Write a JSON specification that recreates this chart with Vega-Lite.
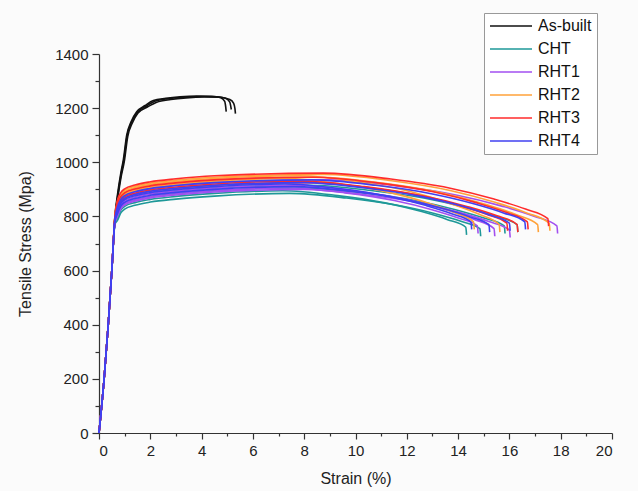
{
"$schema":"https://vega.github.io/schema/vega-lite/v6.json",
"width":513,"height":379,
"autosize":{"type":"none"},
"padding":{"left":99,"top":54,"right":26,"bottom":58},
"background":"#fbfbfb",
"config":{"view":{"stroke":null},"font":"Liberation Sans",
 "axis":{"domainColor":"#333","tickColor":"#333","domainWidth":1.2,"tickWidth":1.2,"labelColor":"#222","titleColor":"#222","labelFontSize":15,"titleFontSize":16,"titleFontWeight":"normal","grid":false,"labelFont":"Liberation Sans","titleFont":"Liberation Sans","format":"d"}},
"data":{"values":[
{"id":"a1","g":"As-built","x":0,"y":0},{"id":"a1","g":"As-built","x":0.2,"y":200},{"id":"a1","g":"As-built","x":0.36,"y":400},{"id":"a1","g":"As-built","x":0.5,"y":600},{"id":"a1","g":"As-built","x":0.62,"y":800},{"id":"a1","g":"As-built","x":0.72,"y":880},{"id":"a1","g":"As-built","x":0.85,"y":960},{"id":"a1","g":"As-built","x":0.95,"y":1010},{"id":"a1","g":"As-built","x":1.08,"y":1100},{"id":"a1","g":"As-built","x":1.25,"y":1150},{"id":"a1","g":"As-built","x":1.47,"y":1187},{"id":"a1","g":"As-built","x":1.8,"y":1210},{"id":"a1","g":"As-built","x":2.12,"y":1228},{"id":"a1","g":"As-built","x":2.6,"y":1236},{"id":"a1","g":"As-built","x":3.16,"y":1242},{"id":"a1","g":"As-built","x":3.8,"y":1245},{"id":"a1","g":"As-built","x":4.4,"y":1244},{"id":"a1","g":"As-built","x":4.75,"y":1238},{"id":"a1","g":"As-built","x":4.9,"y":1225},{"id":"a1","g":"As-built","x":4.94,"y":1205},{"id":"a1","g":"As-built","x":4.96,"y":1187},
{"id":"a2","g":"As-built","x":0,"y":0},{"id":"a2","g":"As-built","x":0.2,"y":200},{"id":"a2","g":"As-built","x":0.36,"y":400},{"id":"a2","g":"As-built","x":0.5,"y":600},{"id":"a2","g":"As-built","x":0.62,"y":795},{"id":"a2","g":"As-built","x":0.72,"y":870},{"id":"a2","g":"As-built","x":0.85,"y":950},{"id":"a2","g":"As-built","x":0.97,"y":1010},{"id":"a2","g":"As-built","x":1.1,"y":1100},{"id":"a2","g":"As-built","x":1.28,"y":1150},{"id":"a2","g":"As-built","x":1.5,"y":1185},{"id":"a2","g":"As-built","x":1.85,"y":1208},{"id":"a2","g":"As-built","x":2.2,"y":1226},{"id":"a2","g":"As-built","x":2.7,"y":1235},{"id":"a2","g":"As-built","x":3.3,"y":1240},{"id":"a2","g":"As-built","x":4.0,"y":1243},{"id":"a2","g":"As-built","x":4.6,"y":1242},{"id":"a2","g":"As-built","x":4.95,"y":1236},{"id":"a2","g":"As-built","x":5.1,"y":1222},{"id":"a2","g":"As-built","x":5.14,"y":1205},{"id":"a2","g":"As-built","x":5.16,"y":1195},
{"id":"a3","g":"As-built","x":0,"y":0},{"id":"a3","g":"As-built","x":0.2,"y":200},{"id":"a3","g":"As-built","x":0.36,"y":400},{"id":"a3","g":"As-built","x":0.5,"y":600},{"id":"a3","g":"As-built","x":0.62,"y":790},{"id":"a3","g":"As-built","x":0.72,"y":860},{"id":"a3","g":"As-built","x":0.85,"y":940},{"id":"a3","g":"As-built","x":0.99,"y":1005},{"id":"a3","g":"As-built","x":1.12,"y":1095},{"id":"a3","g":"As-built","x":1.3,"y":1145},{"id":"a3","g":"As-built","x":1.52,"y":1182},{"id":"a3","g":"As-built","x":1.9,"y":1205},{"id":"a3","g":"As-built","x":2.25,"y":1222},{"id":"a3","g":"As-built","x":2.8,"y":1232},{"id":"a3","g":"As-built","x":3.4,"y":1238},{"id":"a3","g":"As-built","x":4.1,"y":1241},{"id":"a3","g":"As-built","x":4.7,"y":1240},{"id":"a3","g":"As-built","x":5.1,"y":1232},{"id":"a3","g":"As-built","x":5.25,"y":1218},{"id":"a3","g":"As-built","x":5.3,"y":1198},{"id":"a3","g":"As-built","x":5.32,"y":1180},

{"id":"c1","g":"CHT","x":0,"y":0},{"id":"c1","g":"CHT","x":0.2,"y":200},{"id":"c1","g":"CHT","x":0.36,"y":400},{"id":"c1","g":"CHT","x":0.5,"y":600},{"id":"c1","g":"CHT","x":0.62,"y":770},{"id":"c1","g":"CHT","x":0.72,"y":785},{"id":"c1","g":"CHT","x":0.85,"y":813},{"id":"c1","g":"CHT","x":1.0,"y":827},{"id":"c1","g":"CHT","x":1.4,"y":841},{"id":"c1","g":"CHT","x":2.0,"y":853},{"id":"c1","g":"CHT","x":3.0,"y":864},{"id":"c1","g":"CHT","x":4.5,"y":875},{"id":"c1","g":"CHT","x":7.43,"y":885},{"id":"c1","g":"CHT","x":9.65,"y":868},{"id":"c1","g":"CHT","x":11.58,"y":842},{"id":"c1","g":"CHT","x":13.07,"y":811},{"id":"c1","g":"CHT","x":14.11,"y":782},{"id":"c1","g":"CHT","x":14.85,"y":755},{"id":"c1","g":"CHT","x":14.88,"y":727},
{"id":"c2","g":"CHT","x":0,"y":0},{"id":"c2","g":"CHT","x":0.2,"y":200},{"id":"c2","g":"CHT","x":0.36,"y":400},{"id":"c2","g":"CHT","x":0.5,"y":600},{"id":"c2","g":"CHT","x":0.62,"y":774},{"id":"c2","g":"CHT","x":0.72,"y":795},{"id":"c2","g":"CHT","x":0.85,"y":823},{"id":"c2","g":"CHT","x":1.0,"y":837},{"id":"c2","g":"CHT","x":1.4,"y":851},{"id":"c2","g":"CHT","x":2.0,"y":863},{"id":"c2","g":"CHT","x":3.0,"y":874},{"id":"c2","g":"CHT","x":4.5,"y":885},{"id":"c2","g":"CHT","x":7.15,"y":895},{"id":"c2","g":"CHT","x":9.3,"y":877},{"id":"c2","g":"CHT","x":11.15,"y":850},{"id":"c2","g":"CHT","x":12.58,"y":818},{"id":"c2","g":"CHT","x":13.59,"y":788},{"id":"c2","g":"CHT","x":14.3,"y":760},{"id":"c2","g":"CHT","x":14.33,"y":732},
{"id":"c3","g":"CHT","x":0,"y":0},{"id":"c3","g":"CHT","x":0.2,"y":200},{"id":"c3","g":"CHT","x":0.36,"y":400},{"id":"c3","g":"CHT","x":0.5,"y":600},{"id":"c3","g":"CHT","x":0.62,"y":778},{"id":"c3","g":"CHT","x":0.72,"y":805},{"id":"c3","g":"CHT","x":0.85,"y":833},{"id":"c3","g":"CHT","x":1.0,"y":847},{"id":"c3","g":"CHT","x":1.4,"y":861},{"id":"c3","g":"CHT","x":2.0,"y":873},{"id":"c3","g":"CHT","x":3.0,"y":884},{"id":"c3","g":"CHT","x":4.5,"y":895},{"id":"c3","g":"CHT","x":7.9,"y":905},{"id":"c3","g":"CHT","x":10.27,"y":887},{"id":"c3","g":"CHT","x":12.32,"y":859},{"id":"c3","g":"CHT","x":13.9,"y":825},{"id":"c3","g":"CHT","x":15.01,"y":794},{"id":"c3","g":"CHT","x":15.8,"y":765},{"id":"c3","g":"CHT","x":15.83,"y":737},
{"id":"c4","g":"CHT","x":0,"y":0},{"id":"c4","g":"CHT","x":0.2,"y":200},{"id":"c4","g":"CHT","x":0.36,"y":400},{"id":"c4","g":"CHT","x":0.5,"y":600},{"id":"c4","g":"CHT","x":0.62,"y":782},{"id":"c4","g":"CHT","x":0.72,"y":815},{"id":"c4","g":"CHT","x":0.85,"y":843},{"id":"c4","g":"CHT","x":1.0,"y":857},{"id":"c4","g":"CHT","x":1.4,"y":871},{"id":"c4","g":"CHT","x":2.0,"y":883},{"id":"c4","g":"CHT","x":3.0,"y":894},{"id":"c4","g":"CHT","x":4.5,"y":905},{"id":"c4","g":"CHT","x":8.15,"y":915},{"id":"c4","g":"CHT","x":10.6,"y":896},{"id":"c4","g":"CHT","x":12.71,"y":867},{"id":"c4","g":"CHT","x":14.34,"y":832},{"id":"c4","g":"CHT","x":15.49,"y":800},{"id":"c4","g":"CHT","x":16.3,"y":770},{"id":"c4","g":"CHT","x":16.33,"y":742},

{"id":"p1","g":"RHT1","x":0,"y":0},{"id":"p1","g":"RHT1","x":0.2,"y":200},{"id":"p1","g":"RHT1","x":0.36,"y":400},{"id":"p1","g":"RHT1","x":0.5,"y":600},{"id":"p1","g":"RHT1","x":0.62,"y":778},{"id":"p1","g":"RHT1","x":0.72,"y":805},{"id":"p1","g":"RHT1","x":0.85,"y":833},{"id":"p1","g":"RHT1","x":1.0,"y":847},{"id":"p1","g":"RHT1","x":1.4,"y":861},{"id":"p1","g":"RHT1","x":2.0,"y":873},{"id":"p1","g":"RHT1","x":3.0,"y":884},{"id":"p1","g":"RHT1","x":4.5,"y":895},{"id":"p1","g":"RHT1","x":7.38,"y":905},{"id":"p1","g":"RHT1","x":9.59,"y":887},{"id":"p1","g":"RHT1","x":11.51,"y":859},{"id":"p1","g":"RHT1","x":12.98,"y":825},{"id":"p1","g":"RHT1","x":14.01,"y":794},{"id":"p1","g":"RHT1","x":14.75,"y":765},{"id":"p1","g":"RHT1","x":14.78,"y":737},
{"id":"p2","g":"RHT1","x":0,"y":0},{"id":"p2","g":"RHT1","x":0.2,"y":200},{"id":"p2","g":"RHT1","x":0.36,"y":400},{"id":"p2","g":"RHT1","x":0.5,"y":600},{"id":"p2","g":"RHT1","x":0.62,"y":782},{"id":"p2","g":"RHT1","x":0.72,"y":815},{"id":"p2","g":"RHT1","x":0.85,"y":843},{"id":"p2","g":"RHT1","x":1.0,"y":857},{"id":"p2","g":"RHT1","x":1.4,"y":871},{"id":"p2","g":"RHT1","x":2.0,"y":883},{"id":"p2","g":"RHT1","x":3.0,"y":894},{"id":"p2","g":"RHT1","x":4.5,"y":905},{"id":"p2","g":"RHT1","x":7.7,"y":915},{"id":"p2","g":"RHT1","x":10.01,"y":894},{"id":"p2","g":"RHT1","x":12.01,"y":862},{"id":"p2","g":"RHT1","x":13.55,"y":824},{"id":"p2","g":"RHT1","x":14.63,"y":789},{"id":"p2","g":"RHT1","x":15.4,"y":755},{"id":"p2","g":"RHT1","x":15.43,"y":727},
{"id":"p3","g":"RHT1","x":0,"y":0},{"id":"p3","g":"RHT1","x":0.2,"y":200},{"id":"p3","g":"RHT1","x":0.36,"y":400},{"id":"p3","g":"RHT1","x":0.5,"y":600},{"id":"p3","g":"RHT1","x":0.62,"y":776},{"id":"p3","g":"RHT1","x":0.72,"y":800},{"id":"p3","g":"RHT1","x":0.85,"y":828},{"id":"p3","g":"RHT1","x":1.0,"y":842},{"id":"p3","g":"RHT1","x":1.4,"y":856},{"id":"p3","g":"RHT1","x":2.0,"y":868},{"id":"p3","g":"RHT1","x":3.0,"y":879},{"id":"p3","g":"RHT1","x":4.5,"y":890},{"id":"p3","g":"RHT1","x":8.0,"y":900},{"id":"p3","g":"RHT1","x":10.4,"y":880},{"id":"p3","g":"RHT1","x":12.48,"y":850},{"id":"p3","g":"RHT1","x":14.08,"y":814},{"id":"p3","g":"RHT1","x":15.2,"y":781},{"id":"p3","g":"RHT1","x":16.0,"y":750},{"id":"p3","g":"RHT1","x":16.03,"y":722},
{"id":"p4","g":"RHT1","x":0,"y":0},{"id":"p4","g":"RHT1","x":0.2,"y":200},{"id":"p4","g":"RHT1","x":0.36,"y":400},{"id":"p4","g":"RHT1","x":0.5,"y":600},{"id":"p4","g":"RHT1","x":0.62,"y":790},{"id":"p4","g":"RHT1","x":0.72,"y":835},{"id":"p4","g":"RHT1","x":0.85,"y":863},{"id":"p4","g":"RHT1","x":1.0,"y":877},{"id":"p4","g":"RHT1","x":1.4,"y":891},{"id":"p4","g":"RHT1","x":2.0,"y":903},{"id":"p4","g":"RHT1","x":3.0,"y":914},{"id":"p4","g":"RHT1","x":4.5,"y":925},{"id":"p4","g":"RHT1","x":8.93,"y":935},{"id":"p4","g":"RHT1","x":11.6,"y":913},{"id":"p4","g":"RHT1","x":13.92,"y":879},{"id":"p4","g":"RHT1","x":15.71,"y":838},{"id":"p4","g":"RHT1","x":16.96,"y":801},{"id":"p4","g":"RHT1","x":17.85,"y":765},{"id":"p4","g":"RHT1","x":17.88,"y":737},

{"id":"o1","g":"RHT2","x":0,"y":0},{"id":"o1","g":"RHT2","x":0.2,"y":200},{"id":"o1","g":"RHT2","x":0.36,"y":400},{"id":"o1","g":"RHT2","x":0.5,"y":600},{"id":"o1","g":"RHT2","x":0.62,"y":792},{"id":"o1","g":"RHT2","x":0.72,"y":840},{"id":"o1","g":"RHT2","x":0.85,"y":868},{"id":"o1","g":"RHT2","x":1.0,"y":882},{"id":"o1","g":"RHT2","x":1.4,"y":896},{"id":"o1","g":"RHT2","x":2.0,"y":908},{"id":"o1","g":"RHT2","x":3.0,"y":919},{"id":"o1","g":"RHT2","x":4.5,"y":930},{"id":"o1","g":"RHT2","x":7.3,"y":940},{"id":"o1","g":"RHT2","x":9.49,"y":919},{"id":"o1","g":"RHT2","x":11.39,"y":887},{"id":"o1","g":"RHT2","x":12.85,"y":849},{"id":"o1","g":"RHT2","x":13.87,"y":814},{"id":"o1","g":"RHT2","x":14.6,"y":780},{"id":"o1","g":"RHT2","x":14.63,"y":752},
{"id":"o2","g":"RHT2","x":0,"y":0},{"id":"o2","g":"RHT2","x":0.2,"y":200},{"id":"o2","g":"RHT2","x":0.36,"y":400},{"id":"o2","g":"RHT2","x":0.5,"y":600},{"id":"o2","g":"RHT2","x":0.62,"y":796},{"id":"o2","g":"RHT2","x":0.72,"y":850},{"id":"o2","g":"RHT2","x":0.85,"y":878},{"id":"o2","g":"RHT2","x":1.0,"y":892},{"id":"o2","g":"RHT2","x":1.4,"y":906},{"id":"o2","g":"RHT2","x":2.0,"y":918},{"id":"o2","g":"RHT2","x":3.0,"y":929},{"id":"o2","g":"RHT2","x":4.5,"y":940},{"id":"o2","g":"RHT2","x":7.8,"y":950},{"id":"o2","g":"RHT2","x":10.14,"y":927},{"id":"o2","g":"RHT2","x":12.17,"y":891},{"id":"o2","g":"RHT2","x":13.73,"y":847},{"id":"o2","g":"RHT2","x":14.82,"y":808},{"id":"o2","g":"RHT2","x":15.6,"y":770},{"id":"o2","g":"RHT2","x":15.63,"y":742},
{"id":"o3","g":"RHT2","x":0,"y":0},{"id":"o3","g":"RHT2","x":0.2,"y":200},{"id":"o3","g":"RHT2","x":0.36,"y":400},{"id":"o3","g":"RHT2","x":0.5,"y":600},{"id":"o3","g":"RHT2","x":0.62,"y":794},{"id":"o3","g":"RHT2","x":0.72,"y":845},{"id":"o3","g":"RHT2","x":0.85,"y":873},{"id":"o3","g":"RHT2","x":1.0,"y":887},{"id":"o3","g":"RHT2","x":1.4,"y":901},{"id":"o3","g":"RHT2","x":2.0,"y":913},{"id":"o3","g":"RHT2","x":3.0,"y":924},{"id":"o3","g":"RHT2","x":4.5,"y":935},{"id":"o3","g":"RHT2","x":8.55,"y":945},{"id":"o3","g":"RHT2","x":11.12,"y":922},{"id":"o3","g":"RHT2","x":13.34,"y":887},{"id":"o3","g":"RHT2","x":15.05,"y":845},{"id":"o3","g":"RHT2","x":16.25,"y":807},{"id":"o3","g":"RHT2","x":17.1,"y":770},{"id":"o3","g":"RHT2","x":17.13,"y":742},
{"id":"o4","g":"RHT2","x":0,"y":0},{"id":"o4","g":"RHT2","x":0.2,"y":200},{"id":"o4","g":"RHT2","x":0.36,"y":400},{"id":"o4","g":"RHT2","x":0.5,"y":600},{"id":"o4","g":"RHT2","x":0.62,"y":798},{"id":"o4","g":"RHT2","x":0.72,"y":855},{"id":"o4","g":"RHT2","x":0.85,"y":883},{"id":"o4","g":"RHT2","x":1.0,"y":897},{"id":"o4","g":"RHT2","x":1.4,"y":911},{"id":"o4","g":"RHT2","x":2.0,"y":923},{"id":"o4","g":"RHT2","x":3.0,"y":934},{"id":"o4","g":"RHT2","x":4.5,"y":945},{"id":"o4","g":"RHT2","x":8.78,"y":955},{"id":"o4","g":"RHT2","x":11.41,"y":932},{"id":"o4","g":"RHT2","x":13.69,"y":896},{"id":"o4","g":"RHT2","x":15.44,"y":852},{"id":"o4","g":"RHT2","x":16.67,"y":813},{"id":"o4","g":"RHT2","x":17.55,"y":775},{"id":"o4","g":"RHT2","x":17.58,"y":747},

{"id":"r1","g":"RHT3","x":0,"y":0},{"id":"r1","g":"RHT3","x":0.2,"y":200},{"id":"r1","g":"RHT3","x":0.36,"y":400},{"id":"r1","g":"RHT3","x":0.5,"y":600},{"id":"r1","g":"RHT3","x":0.62,"y":788},{"id":"r1","g":"RHT3","x":0.72,"y":830},{"id":"r1","g":"RHT3","x":0.85,"y":858},{"id":"r1","g":"RHT3","x":1.0,"y":872},{"id":"r1","g":"RHT3","x":1.4,"y":886},{"id":"r1","g":"RHT3","x":2.0,"y":898},{"id":"r1","g":"RHT3","x":3.0,"y":909},{"id":"r1","g":"RHT3","x":4.5,"y":920},{"id":"r1","g":"RHT3","x":7.95,"y":930},{"id":"r1","g":"RHT3","x":10.34,"y":910},{"id":"r1","g":"RHT3","x":12.4,"y":879},{"id":"r1","g":"RHT3","x":13.99,"y":842},{"id":"r1","g":"RHT3","x":15.11,"y":808},{"id":"r1","g":"RHT3","x":15.9,"y":775},{"id":"r1","g":"RHT3","x":15.93,"y":747},
{"id":"r2","g":"RHT3","x":0,"y":0},{"id":"r2","g":"RHT3","x":0.2,"y":200},{"id":"r2","g":"RHT3","x":0.36,"y":400},{"id":"r2","g":"RHT3","x":0.5,"y":600},{"id":"r2","g":"RHT3","x":0.62,"y":794},{"id":"r2","g":"RHT3","x":0.72,"y":845},{"id":"r2","g":"RHT3","x":0.85,"y":873},{"id":"r2","g":"RHT3","x":1.0,"y":887},{"id":"r2","g":"RHT3","x":1.4,"y":901},{"id":"r2","g":"RHT3","x":2.0,"y":913},{"id":"r2","g":"RHT3","x":3.0,"y":924},{"id":"r2","g":"RHT3","x":4.5,"y":935},{"id":"r2","g":"RHT3","x":8.35,"y":945},{"id":"r2","g":"RHT3","x":10.86,"y":924},{"id":"r2","g":"RHT3","x":13.03,"y":891},{"id":"r2","g":"RHT3","x":14.7,"y":851},{"id":"r2","g":"RHT3","x":15.87,"y":815},{"id":"r2","g":"RHT3","x":16.7,"y":780},{"id":"r2","g":"RHT3","x":16.73,"y":752},
{"id":"r3","g":"RHT3","x":0,"y":0},{"id":"r3","g":"RHT3","x":0.2,"y":200},{"id":"r3","g":"RHT3","x":0.36,"y":400},{"id":"r3","g":"RHT3","x":0.5,"y":600},{"id":"r3","g":"RHT3","x":0.62,"y":800},{"id":"r3","g":"RHT3","x":0.72,"y":860},{"id":"r3","g":"RHT3","x":0.85,"y":888},{"id":"r3","g":"RHT3","x":1.0,"y":902},{"id":"r3","g":"RHT3","x":1.4,"y":916},{"id":"r3","g":"RHT3","x":2.0,"y":928},{"id":"r3","g":"RHT3","x":3.0,"y":939},{"id":"r3","g":"RHT3","x":4.5,"y":950},{"id":"r3","g":"RHT3","x":8.75,"y":960},{"id":"r3","g":"RHT3","x":11.38,"y":938},{"id":"r3","g":"RHT3","x":13.65,"y":905},{"id":"r3","g":"RHT3","x":15.4,"y":864},{"id":"r3","g":"RHT3","x":16.63,"y":827},{"id":"r3","g":"RHT3","x":17.5,"y":792},{"id":"r3","g":"RHT3","x":17.53,"y":764},
{"id":"r4","g":"RHT3","x":0,"y":0},{"id":"r4","g":"RHT3","x":0.2,"y":200},{"id":"r4","g":"RHT3","x":0.36,"y":400},{"id":"r4","g":"RHT3","x":0.5,"y":600},{"id":"r4","g":"RHT3","x":0.62,"y":786},{"id":"r4","g":"RHT3","x":0.72,"y":825},{"id":"r4","g":"RHT3","x":0.85,"y":853},{"id":"r4","g":"RHT3","x":1.0,"y":867},{"id":"r4","g":"RHT3","x":1.4,"y":881},{"id":"r4","g":"RHT3","x":2.0,"y":893},{"id":"r4","g":"RHT3","x":3.0,"y":904},{"id":"r4","g":"RHT3","x":4.5,"y":915},{"id":"r4","g":"RHT3","x":8.15,"y":925},{"id":"r4","g":"RHT3","x":10.6,"y":905},{"id":"r4","g":"RHT3","x":12.71,"y":874},{"id":"r4","g":"RHT3","x":14.34,"y":837},{"id":"r4","g":"RHT3","x":15.49,"y":803},{"id":"r4","g":"RHT3","x":16.3,"y":770},{"id":"r4","g":"RHT3","x":16.33,"y":742},

{"id":"b1","g":"RHT4","x":0,"y":0},{"id":"b1","g":"RHT4","x":0.2,"y":200},{"id":"b1","g":"RHT4","x":0.36,"y":400},{"id":"b1","g":"RHT4","x":0.5,"y":600},{"id":"b1","g":"RHT4","x":0.62,"y":784},{"id":"b1","g":"RHT4","x":0.72,"y":820},{"id":"b1","g":"RHT4","x":0.85,"y":848},{"id":"b1","g":"RHT4","x":1.0,"y":862},{"id":"b1","g":"RHT4","x":1.4,"y":876},{"id":"b1","g":"RHT4","x":2.0,"y":888},{"id":"b1","g":"RHT4","x":3.0,"y":899},{"id":"b1","g":"RHT4","x":4.5,"y":910},{"id":"b1","g":"RHT4","x":7.25,"y":920},{"id":"b1","g":"RHT4","x":9.43,"y":902},{"id":"b1","g":"RHT4","x":11.31,"y":874},{"id":"b1","g":"RHT4","x":12.76,"y":840},{"id":"b1","g":"RHT4","x":13.78,"y":809},{"id":"b1","g":"RHT4","x":14.5,"y":780},{"id":"b1","g":"RHT4","x":14.53,"y":752},
{"id":"b2","g":"RHT4","x":0,"y":0},{"id":"b2","g":"RHT4","x":0.2,"y":200},{"id":"b2","g":"RHT4","x":0.36,"y":400},{"id":"b2","g":"RHT4","x":0.5,"y":600},{"id":"b2","g":"RHT4","x":0.62,"y":790},{"id":"b2","g":"RHT4","x":0.72,"y":835},{"id":"b2","g":"RHT4","x":0.85,"y":863},{"id":"b2","g":"RHT4","x":1.0,"y":877},{"id":"b2","g":"RHT4","x":1.4,"y":891},{"id":"b2","g":"RHT4","x":2.0,"y":903},{"id":"b2","g":"RHT4","x":3.0,"y":914},{"id":"b2","g":"RHT4","x":4.5,"y":925},{"id":"b2","g":"RHT4","x":8.3,"y":935},{"id":"b2","g":"RHT4","x":10.79,"y":915},{"id":"b2","g":"RHT4","x":12.95,"y":884},{"id":"b2","g":"RHT4","x":14.61,"y":847},{"id":"b2","g":"RHT4","x":15.77,"y":813},{"id":"b2","g":"RHT4","x":16.6,"y":780},{"id":"b2","g":"RHT4","x":16.63,"y":752},
{"id":"b3","g":"RHT4","x":0,"y":0},{"id":"b3","g":"RHT4","x":0.2,"y":200},{"id":"b3","g":"RHT4","x":0.36,"y":400},{"id":"b3","g":"RHT4","x":0.5,"y":600},{"id":"b3","g":"RHT4","x":0.62,"y":780},{"id":"b3","g":"RHT4","x":0.72,"y":810},{"id":"b3","g":"RHT4","x":0.85,"y":838},{"id":"b3","g":"RHT4","x":1.0,"y":852},{"id":"b3","g":"RHT4","x":1.4,"y":866},{"id":"b3","g":"RHT4","x":2.0,"y":878},{"id":"b3","g":"RHT4","x":3.0,"y":889},{"id":"b3","g":"RHT4","x":4.5,"y":900},{"id":"b3","g":"RHT4","x":7.6,"y":910},{"id":"b3","g":"RHT4","x":9.88,"y":892},{"id":"b3","g":"RHT4","x":11.86,"y":864},{"id":"b3","g":"RHT4","x":13.38,"y":830},{"id":"b3","g":"RHT4","x":14.44,"y":799},{"id":"b3","g":"RHT4","x":15.2,"y":770},{"id":"b3","g":"RHT4","x":15.23,"y":742},
{"id":"b4","g":"RHT4","x":0,"y":0},{"id":"b4","g":"RHT4","x":0.2,"y":200},{"id":"b4","g":"RHT4","x":0.36,"y":400},{"id":"b4","g":"RHT4","x":0.5,"y":600},{"id":"b4","g":"RHT4","x":0.62,"y":786},{"id":"b4","g":"RHT4","x":0.72,"y":825},{"id":"b4","g":"RHT4","x":0.85,"y":853},{"id":"b4","g":"RHT4","x":1.0,"y":867},{"id":"b4","g":"RHT4","x":1.4,"y":881},{"id":"b4","g":"RHT4","x":2.0,"y":893},{"id":"b4","g":"RHT4","x":3.0,"y":904},{"id":"b4","g":"RHT4","x":4.5,"y":915},{"id":"b4","g":"RHT4","x":8.0,"y":925},{"id":"b4","g":"RHT4","x":10.4,"y":905},{"id":"b4","g":"RHT4","x":12.48,"y":875},{"id":"b4","g":"RHT4","x":14.08,"y":840},{"id":"b4","g":"RHT4","x":15.2,"y":806},{"id":"b4","g":"RHT4","x":16.0,"y":775},{"id":"b4","g":"RHT4","x":16.03,"y":747}
]},
"layer":[
{"mark":{"type":"line","interpolate":"monotone","strokeWidth":1.6},
 "encoding":{
  "x":{"field":"x","type":"quantitative","scale":{"domain":[0,20],"nice":false,"zero":false},
       "axis":{"orient":"bottom","values":[0,2,4,6,8,10,12,14,16,18,20],"title":"Strain (%)","tickSize":6,"labelPadding":4,"titlePadding":12}},
  "y":{"field":"y","type":"quantitative","scale":{"domain":[0,1400],"nice":false},
       "axis":{"orient":"left","values":[0,200,400,600,800,1000,1200,1400],"title":"Tensile Stress (Mpa)","tickSize":7,"labelPadding":4,"titlePadding":21}},
  "color":{"field":"g","type":"nominal",
    "scale":{"domain":["As-built","CHT","RHT1","RHT2","RHT3","RHT4"],"range":["#111111","#1e9898","#a24ff0","#ffa23a","#ff2b2b","#4040f0"]},
    "legend":{"title":null,"orient":"none","legendX":385,"legendY":-41,"symbolType":"M-3,0H3","symbolSize":196,"symbolStrokeWidth":1.5,"symbolFillColor":"transparent","symbolOffset":14,
      "labelFontSize":16,"labelColor":"#111","labelFont":"Liberation Sans","rowPadding":7,"strokeColor":"#999","padding":5,"labelOffset":19,"fillColor":"#ffffff"}},
  "detail":{"field":"id","type":"nominal"}}},
{"mark":{"type":"rule"},"transform":[{"filter":"false"}],
 "encoding":{
  "x":{"field":"x","type":"quantitative","axis":{"orient":"bottom","values":[1,3,5,7,9,11,13,15,17,19],"labels":false,"title":null,"domain":false,"tickSize":3}},
  "y":{"field":"y","type":"quantitative","axis":{"orient":"left","values":[100,300,500,700,900,1100,1300],"labels":false,"title":null,"domain":false,"tickSize":4}}}}
],
"resolve":{"axis":{"x":"independent","y":"independent"}}
}
